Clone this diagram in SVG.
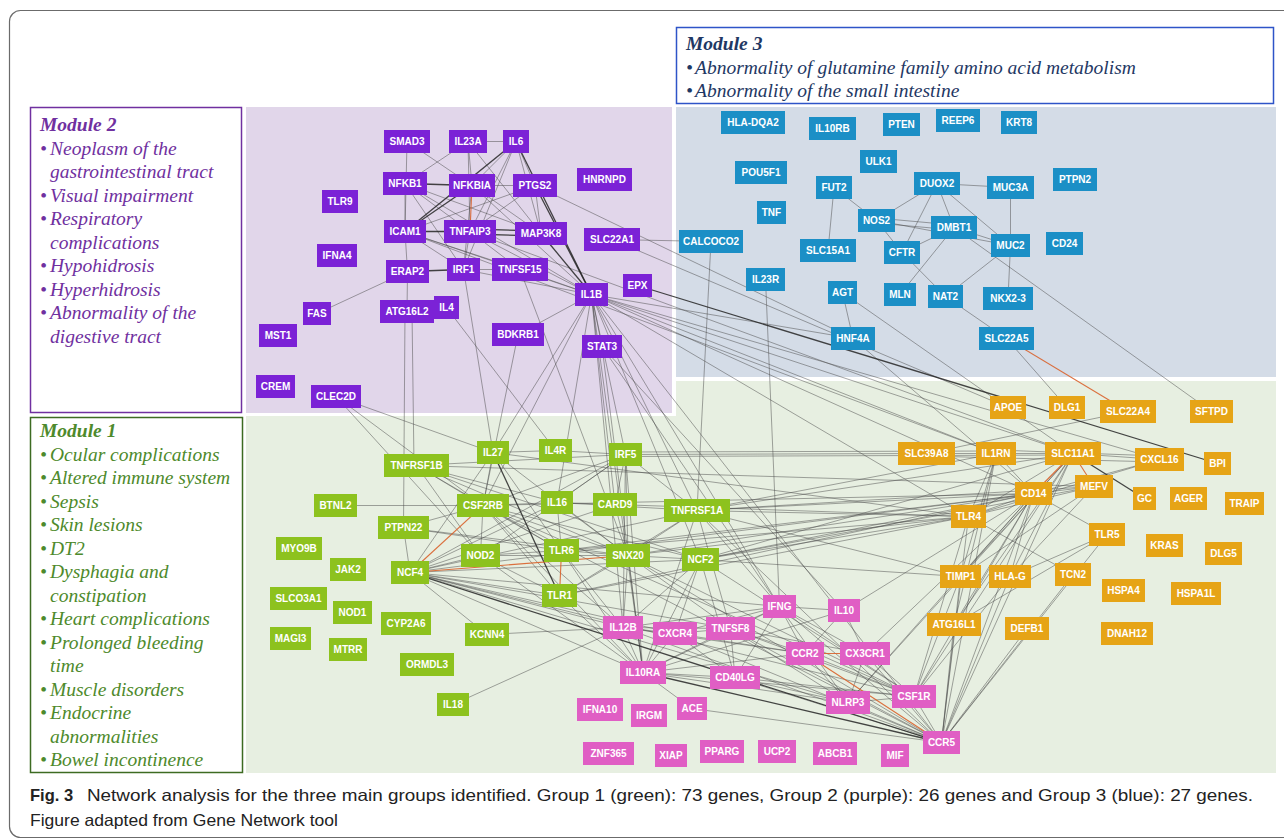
<svg xmlns="http://www.w3.org/2000/svg" width="1284" height="839" viewBox="0 0 1284 839">
<style>
.n rect{stroke:none}
.n text{font-family:"Liberation Sans",Arial,sans-serif;font-weight:bold;font-size:10px;fill:#fff;text-anchor:middle}
.p rect{fill:#7b22d6}
.b rect{fill:#1b8fc6}
.g rect{fill:#8dc21e}
.k rect{fill:#e05ec4}
.o rect{fill:#e6a416}
#edges line{stroke:#4a4a4a;stroke-width:0.8;stroke-opacity:0.62}
#edges line.d{stroke:#262626;stroke-width:1.3;stroke-opacity:0.85}
#edges line.r{stroke:#d9622b;stroke-width:1.1;stroke-opacity:0.9}
.mt{font-family:"Liberation Serif","Times New Roman",serif;font-style:italic;font-size:19.5px}
.mh{font-weight:bold}
.m2{fill:#7030a0}
.m1{fill:#4e8a2c}
.m3{fill:#1f3864}
.cap{font-family:"Liberation Sans",Arial,sans-serif;font-size:16.5px;fill:#222}
</style>
<rect x="0" y="0" width="1284" height="839" fill="#fff"/>
<rect x="9.5" y="10.5" width="1300" height="827" rx="11" fill="none" stroke="#6b6b6b" stroke-width="1.2"/>
<g id="regions">
<rect x="246" y="381" width="1030" height="392" fill="#e7efe1"/>
<rect x="246" y="104" width="430" height="312" fill="#fff"/>
<rect x="246" y="107" width="426" height="306" fill="#e1d6ea"/>
<rect x="676" y="107" width="600" height="270" fill="#d4dce7"/>
</g>
<g id="module3">
<rect x="676.5" y="27.5" width="597" height="76" fill="#fff" stroke="#2e54c8" stroke-width="1.5"/>
<text class="mt mh m3" x="686" y="50">Module 3</text>
<text class="mt m3" x="686" y="74">•<tspan x="695">Abnormality of glutamine family amino acid metabolism</tspan></text>
<text class="mt m3" x="686" y="97">•<tspan x="695">Abnormality of the small intestine</tspan></text>
</g>
<g id="module2">
<rect x="30.5" y="107.5" width="211" height="305" fill="#fff" stroke="#7030a0" stroke-width="1.5"/>
<text class="mt mh m2" x="40" y="131">Module 2</text>
<text class="mt m2" x="40" y="154.5">•<tspan x="50">Neoplasm of the</tspan></text>
<text class="mt m2" x="50" y="178">gastrointestinal tract</text>
<text class="mt m2" x="40" y="201.5">•<tspan x="50">Visual impairment</tspan></text>
<text class="mt m2" x="40" y="225">•<tspan x="50">Respiratory</tspan></text>
<text class="mt m2" x="50" y="248.5">complications</text>
<text class="mt m2" x="40" y="272">•<tspan x="50">Hypohidrosis</tspan></text>
<text class="mt m2" x="40" y="295.5">•<tspan x="50">Hyperhidrosis</tspan></text>
<text class="mt m2" x="40" y="319">•<tspan x="50">Abnormality of the</tspan></text>
<text class="mt m2" x="50" y="342.5">digestive tract</text>
</g>
<g id="module1">
<rect x="30.5" y="417.5" width="212" height="355" fill="#fff" stroke="#3d6b22" stroke-width="1.5"/>
<text class="mt mh m1" x="40" y="437">Module 1</text>
<text class="mt m1" x="40" y="460.5">•<tspan x="50">Ocular complications</tspan></text>
<text class="mt m1" x="40" y="484">•<tspan x="50">Altered immune system</tspan></text>
<text class="mt m1" x="40" y="507.5">•<tspan x="50">Sepsis</tspan></text>
<text class="mt m1" x="40" y="531">•<tspan x="50">Skin lesions</tspan></text>
<text class="mt m1" x="40" y="554.5">•<tspan x="50">DT2</tspan></text>
<text class="mt m1" x="40" y="578">•<tspan x="50">Dysphagia and</tspan></text>
<text class="mt m1" x="50" y="601.5">constipation</text>
<text class="mt m1" x="40" y="625">•<tspan x="50">Heart complications</tspan></text>
<text class="mt m1" x="40" y="648.5">•<tspan x="50">Prolonged bleeding</tspan></text>
<text class="mt m1" x="50" y="672">time</text>
<text class="mt m1" x="40" y="695.5">•<tspan x="50">Muscle disorders</tspan></text>
<text class="mt m1" x="40" y="719">•<tspan x="50">Endocrine</tspan></text>
<text class="mt m1" x="50" y="742.5">abnormalities</text>
<text class="mt m1" x="40" y="766">•<tspan x="50">Bowel incontinence</tspan></text>
</g>
<g id="edges">
<line x1="468" y1="141.5" x2="516" y2="141.5"/>
<line x1="407" y1="141.5" x2="472" y2="185.5"/>
<line x1="407" y1="141.5" x2="405" y2="231.5"/>
<line x1="468" y1="141.5" x2="405" y2="183.5"/>
<line x1="468" y1="141.5" x2="472" y2="185.5"/>
<line x1="468" y1="141.5" x2="470" y2="231.5"/>
<line x1="468" y1="141.5" x2="541" y2="233.5"/>
<line x1="516" y1="141.5" x2="472" y2="185.5"/>
<line x1="516" y1="141.5" x2="470" y2="231.5"/>
<line x1="516" y1="141.5" x2="535" y2="185.5"/>
<line x1="516" y1="141.5" x2="541" y2="233.5"/>
<line x1="516" y1="141.5" x2="463.5" y2="269.5"/>
<line x1="405" y1="183.5" x2="405" y2="231.5"/>
<line x1="405" y1="183.5" x2="470" y2="231.5"/>
<line x1="405" y1="183.5" x2="463.5" y2="269.5"/>
<line x1="405" y1="183.5" x2="541" y2="233.5"/>
<line x1="405" y1="183.5" x2="591.5" y2="294.5"/>
<line x1="472" y1="185.5" x2="535" y2="185.5"/>
<line x1="472" y1="185.5" x2="541" y2="233.5"/>
<line x1="472" y1="185.5" x2="591.5" y2="294.5"/>
<line x1="472" y1="185.5" x2="463.5" y2="269.5"/>
<line x1="535" y1="185.5" x2="541" y2="233.5"/>
<line x1="535" y1="185.5" x2="405" y2="231.5"/>
<line x1="535" y1="185.5" x2="470" y2="231.5"/>
<line x1="535" y1="185.5" x2="853" y2="338.5"/>
<line x1="405" y1="231.5" x2="463.5" y2="269.5"/>
<line x1="405" y1="231.5" x2="520" y2="269.5"/>
<line x1="405" y1="231.5" x2="591.5" y2="294.5"/>
<line x1="405" y1="231.5" x2="407.5" y2="271.5"/>
<line x1="405" y1="231.5" x2="996" y2="453.5"/>
<line x1="470" y1="231.5" x2="463.5" y2="269.5"/>
<line x1="470" y1="231.5" x2="591.5" y2="294.5"/>
<line x1="470" y1="231.5" x2="520" y2="269.5"/>
<line x1="470" y1="231.5" x2="1073" y2="453.5"/>
<line x1="407.5" y1="271.5" x2="317" y2="313.5"/>
<line x1="407.5" y1="271.5" x2="407" y2="311.5"/>
<line x1="463.5" y1="269.5" x2="520" y2="269.5"/>
<line x1="463.5" y1="269.5" x2="591.5" y2="294.5"/>
<line x1="520" y1="269.5" x2="591.5" y2="294.5"/>
<line x1="591.5" y1="294.5" x2="518" y2="334.5"/>
<line x1="591.5" y1="294.5" x2="602" y2="346.5"/>
<line x1="612" y1="239.5" x2="711" y2="241.5"/>
<line x1="612" y1="239.5" x2="1008" y2="407.5"/>
<line x1="336" y1="396.5" x2="483" y2="505.5"/>
<line x1="336" y1="396.5" x2="493" y2="452.5"/>
<line x1="336" y1="396.5" x2="480.5" y2="555.5"/>
<line x1="405" y1="311.5" x2="403.5" y2="527.5"/>
<line x1="412" y1="311.5" x2="414" y2="465.5"/>
<line x1="463.5" y1="269.5" x2="493" y2="452.5"/>
<line x1="446.5" y1="307.5" x2="555.5" y2="450.5"/>
<line x1="591.5" y1="294.5" x2="493" y2="452.5"/>
<line x1="520" y1="269.5" x2="628" y2="555.5"/>
<line x1="591.5" y1="294.5" x2="625.5" y2="454.5"/>
<line x1="591.5" y1="294.5" x2="697" y2="510.5"/>
<line x1="591.5" y1="294.5" x2="615" y2="504.5"/>
<line x1="591.5" y1="294.5" x2="643" y2="672.5"/>
<line x1="591.5" y1="294.5" x2="779.5" y2="606.5"/>
<line x1="591.5" y1="294.5" x2="700.5" y2="559.5"/>
<line x1="591.5" y1="294.5" x2="996" y2="453.5"/>
<line x1="591.5" y1="294.5" x2="1073" y2="453.5"/>
<line x1="591.5" y1="294.5" x2="1033.5" y2="493.5"/>
<line x1="591.5" y1="294.5" x2="1159.5" y2="459.5"/>
<line x1="591.5" y1="294.5" x2="853" y2="338.5"/>
<line x1="591.5" y1="294.5" x2="941.5" y2="742.5"/>
<line x1="591.5" y1="294.5" x2="623" y2="627.5"/>
<line x1="591.5" y1="294.5" x2="968.5" y2="516.5"/>
<line x1="591.5" y1="294.5" x2="483" y2="505.5"/>
<line x1="591.5" y1="294.5" x2="557" y2="502.5"/>
<line x1="602" y1="346.5" x2="844" y2="610.5"/>
<line x1="602" y1="346.5" x2="643" y2="672.5"/>
<line x1="602" y1="346.5" x2="779.5" y2="606.5"/>
<line x1="518" y1="334.5" x2="483" y2="505.5"/>
<line x1="711" y1="241.5" x2="697" y2="510.5"/>
<line x1="765.5" y1="279.5" x2="779.5" y2="606.5"/>
<line x1="834" y1="187.5" x2="876.5" y2="220.5"/>
<line x1="834" y1="187.5" x2="828" y2="250.5"/>
<line x1="937" y1="183.5" x2="1010.5" y2="187.5"/>
<line x1="937" y1="183.5" x2="876.5" y2="220.5"/>
<line x1="937" y1="183.5" x2="902" y2="252.5"/>
<line x1="937" y1="183.5" x2="954" y2="227.5"/>
<line x1="937" y1="183.5" x2="1010.5" y2="245.5"/>
<line x1="876.5" y1="218" x2="954" y2="225"/>
<line x1="876.5" y1="223" x2="954" y2="230"/>
<line x1="876.5" y1="220.5" x2="1010.5" y2="245.5"/>
<line x1="876.5" y1="220.5" x2="902" y2="252.5"/>
<line x1="954" y1="227.5" x2="902" y2="252.5"/>
<line x1="954" y1="227.5" x2="1010.5" y2="245.5"/>
<line x1="954" y1="227.5" x2="900" y2="294.5"/>
<line x1="1010.5" y1="187.5" x2="1010.5" y2="245.5"/>
<line x1="1010.5" y1="245.5" x2="945.5" y2="296.5"/>
<line x1="1010.5" y1="245.5" x2="1008" y2="298.5"/>
<line x1="902" y1="252.5" x2="945.5" y2="296.5"/>
<line x1="945.5" y1="296.5" x2="1006.5" y2="338.5"/>
<line x1="842.5" y1="292.5" x2="853" y2="338.5"/>
<line x1="954" y1="227.5" x2="1211.5" y2="411.5"/>
<line x1="842.5" y1="292.5" x2="1073" y2="453.5"/>
<line x1="1006.5" y1="338.5" x2="1067" y2="407.5"/>
<line x1="853" y1="338.5" x2="1033.5" y2="493.5"/>
<line x1="493" y1="452.5" x2="555.5" y2="450.5"/>
<line x1="555.5" y1="450.5" x2="625.5" y2="454.5"/>
<line x1="493" y1="452.5" x2="483" y2="505.5"/>
<line x1="493" y1="452.5" x2="410" y2="572.5"/>
<line x1="493" y1="452.5" x2="561.5" y2="550.5"/>
<line x1="493" y1="452.5" x2="628" y2="555.5"/>
<line x1="493" y1="452.5" x2="968.5" y2="516.5"/>
<line x1="416.5" y1="465.5" x2="483" y2="505.5"/>
<line x1="416.5" y1="465.5" x2="480.5" y2="555.5"/>
<line x1="416.5" y1="465.5" x2="561.5" y2="550.5"/>
<line x1="416.5" y1="465.5" x2="628" y2="555.5"/>
<line x1="416.5" y1="465.5" x2="557" y2="502.5"/>
<line x1="416.5" y1="465.5" x2="700.5" y2="559.5"/>
<line x1="416.5" y1="465.5" x2="625.5" y2="454.5"/>
<line x1="416.5" y1="465.5" x2="1094" y2="486.5"/>
<line x1="335.5" y1="505.5" x2="483" y2="505.5"/>
<line x1="625.5" y1="454.5" x2="483" y2="505.5"/>
<line x1="625.5" y1="454.5" x2="557" y2="502.5"/>
<line x1="625.5" y1="454.5" x2="628" y2="555.5"/>
<line x1="625.5" y1="454.5" x2="615" y2="504.5"/>
<line x1="625.5" y1="454.5" x2="697" y2="510.5"/>
<line x1="625.5" y1="454.5" x2="410" y2="572.5"/>
<line x1="625.5" y1="454.5" x2="480.5" y2="555.5"/>
<line x1="625.5" y1="454.5" x2="926.5" y2="453.5"/>
<line x1="625.5" y1="452" x2="996" y2="451"/>
<line x1="625.5" y1="456.5" x2="1073" y2="455"/>
<line x1="625.5" y1="454.5" x2="623" y2="627.5"/>
<line x1="625.5" y1="454.5" x2="643" y2="672.5"/>
<line x1="483" y1="505.5" x2="557" y2="502.5"/>
<line x1="483" y1="505.5" x2="480.5" y2="555.5"/>
<line x1="483" y1="505.5" x2="561.5" y2="550.5"/>
<line x1="483" y1="505.5" x2="628" y2="555.5"/>
<line x1="483" y1="505.5" x2="559.5" y2="595.5"/>
<line x1="483" y1="505.5" x2="623" y2="627.5"/>
<line x1="483" y1="505.5" x2="643" y2="672.5"/>
<line x1="483" y1="505.5" x2="403.5" y2="527.5"/>
<line x1="483" y1="505.5" x2="700.5" y2="559.5"/>
<line x1="483" y1="505.5" x2="941.5" y2="742.5"/>
<line x1="483" y1="505.5" x2="914" y2="696.5"/>
<line x1="483" y1="505.5" x2="1033.5" y2="493.5"/>
<line x1="557" y1="502.5" x2="615" y2="504.5"/>
<line x1="557" y1="502.5" x2="561.5" y2="550.5"/>
<line x1="557" y1="502.5" x2="628" y2="555.5"/>
<line x1="557" y1="502.5" x2="410" y2="572.5"/>
<line x1="557" y1="502.5" x2="697" y2="510.5"/>
<line x1="615" y1="504.5" x2="628" y2="555.5"/>
<line x1="615" y1="504.5" x2="410" y2="572.5"/>
<line x1="615" y1="504.5" x2="968.5" y2="516.5"/>
<line x1="403.5" y1="527.5" x2="410" y2="572.5"/>
<line x1="403.5" y1="527.5" x2="561.5" y2="550.5"/>
<line x1="403.5" y1="527.5" x2="628" y2="555.5"/>
<line x1="480.5" y1="555.5" x2="561.5" y2="550.5"/>
<line x1="480.5" y1="555.5" x2="410" y2="572.5"/>
<line x1="480.5" y1="555.5" x2="628" y2="555.5"/>
<line x1="480.5" y1="555.5" x2="559.5" y2="595.5"/>
<line x1="480.5" y1="555.5" x2="643" y2="672.5"/>
<line x1="561.5" y1="550.5" x2="628" y2="555.5"/>
<line x1="410" y1="572.5" x2="700.5" y2="559.5"/>
<line x1="410" y1="572.5" x2="697" y2="510.5"/>
<line x1="410" y1="572.5" x2="643" y2="672.5"/>
<line x1="410" y1="572.5" x2="623" y2="627.5"/>
<line x1="410" y1="572.5" x2="487" y2="634.5"/>
<line x1="410" y1="572.5" x2="559.5" y2="595.5"/>
<line x1="410" y1="572.5" x2="914" y2="696.5"/>
<line x1="410" y1="572.5" x2="848" y2="702.5"/>
<line x1="410" y1="572.5" x2="1033.5" y2="493.5"/>
<line x1="410" y1="572.5" x2="730.5" y2="628.5"/>
<line x1="410" y1="572.5" x2="675" y2="633.5"/>
<line x1="410" y1="572.5" x2="779.5" y2="606.5"/>
<line x1="487" y1="634.5" x2="623" y2="627.5"/>
<line x1="453" y1="704.5" x2="623" y2="627.5"/>
<line x1="628" y1="555.5" x2="700.5" y2="559.5"/>
<line x1="628" y1="555.5" x2="623" y2="627.5"/>
<line x1="628" y1="555.5" x2="643" y2="672.5"/>
<line x1="628" y1="555.5" x2="697" y2="510.5"/>
<line x1="628" y1="555.5" x2="1033.5" y2="493.5"/>
<line x1="628" y1="555.5" x2="968.5" y2="516.5"/>
<line x1="628" y1="555.5" x2="941.5" y2="742.5"/>
<line x1="628" y1="555.5" x2="559.5" y2="595.5"/>
<line x1="628" y1="555.5" x2="730.5" y2="628.5"/>
<line x1="628" y1="555.5" x2="914" y2="696.5"/>
<line x1="561.5" y1="550.5" x2="1033.5" y2="493.5"/>
<line x1="561.5" y1="550.5" x2="968.5" y2="516.5"/>
<line x1="561.5" y1="550.5" x2="623" y2="627.5"/>
<line x1="561.5" y1="550.5" x2="643" y2="672.5"/>
<line x1="559.5" y1="595.5" x2="968.5" y2="516.5"/>
<line x1="559.5" y1="595.5" x2="1033.5" y2="493.5"/>
<line x1="559.5" y1="595.5" x2="643" y2="672.5"/>
<line x1="559.5" y1="595.5" x2="697" y2="510.5"/>
<line x1="697" y1="510.5" x2="1073" y2="453.5"/>
<line x1="697" y1="510.5" x2="1033.5" y2="493.5"/>
<line x1="697" y1="510.5" x2="996" y2="453.5"/>
<line x1="697" y1="510.5" x2="968.5" y2="516.5"/>
<line x1="697" y1="510.5" x2="643" y2="672.5"/>
<line x1="697" y1="510.5" x2="730.5" y2="628.5"/>
<line x1="697" y1="510.5" x2="941.5" y2="742.5"/>
<line x1="697" y1="510.5" x2="1094" y2="486.5"/>
<line x1="697" y1="510.5" x2="779.5" y2="606.5"/>
<line x1="697" y1="510.5" x2="960.5" y2="576.5"/>
<line x1="700.5" y1="559.5" x2="1033.5" y2="493.5"/>
<line x1="700.5" y1="559.5" x2="968.5" y2="516.5"/>
<line x1="700.5" y1="559.5" x2="1073" y2="453.5"/>
<line x1="700.5" y1="559.5" x2="960.5" y2="576.5"/>
<line x1="700.5" y1="559.5" x2="643" y2="672.5"/>
<line x1="700.5" y1="559.5" x2="675" y2="633.5"/>
<line x1="700.5" y1="559.5" x2="735" y2="677.5"/>
<line x1="700.5" y1="559.5" x2="623" y2="627.5"/>
<line x1="700.5" y1="559.5" x2="914" y2="696.5"/>
<line x1="700.5" y1="559.5" x2="1094" y2="486.5"/>
<line x1="623" y1="627.5" x2="643" y2="672.5"/>
<line x1="623" y1="627.5" x2="675" y2="633.5"/>
<line x1="623" y1="627.5" x2="779.5" y2="606.5"/>
<line x1="623" y1="627.5" x2="730.5" y2="628.5"/>
<line x1="623" y1="627.5" x2="941.5" y2="742.5"/>
<line x1="623" y1="627.5" x2="805" y2="653.5"/>
<line x1="675" y1="633.5" x2="730.5" y2="628.5"/>
<line x1="675" y1="633.5" x2="643" y2="672.5"/>
<line x1="675" y1="633.5" x2="941.5" y2="742.5"/>
<line x1="675" y1="633.5" x2="805" y2="653.5"/>
<line x1="675" y1="633.5" x2="735" y2="677.5"/>
<line x1="675" y1="633.5" x2="779.5" y2="606.5"/>
<line x1="643" y1="672.5" x2="692" y2="708.5"/>
<line x1="643" y1="672.5" x2="914" y2="696.5"/>
<line x1="643" y1="672.5" x2="848" y2="702.5"/>
<line x1="643" y1="672.5" x2="735" y2="677.5"/>
<line x1="643" y1="672.5" x2="730.5" y2="628.5"/>
<line x1="643" y1="672.5" x2="779.5" y2="606.5"/>
<line x1="643" y1="672.5" x2="805" y2="653.5"/>
<line x1="643" y1="672.5" x2="844" y2="610.5"/>
<line x1="692" y1="708.5" x2="941.5" y2="742.5"/>
<line x1="779.5" y1="606.5" x2="844" y2="610.5"/>
<line x1="779.5" y1="606.5" x2="730.5" y2="628.5"/>
<line x1="779.5" y1="606.5" x2="805" y2="653.5"/>
<line x1="779.5" y1="606.5" x2="865" y2="653.5"/>
<line x1="779.5" y1="606.5" x2="735" y2="677.5"/>
<line x1="779.5" y1="606.5" x2="914" y2="696.5"/>
<line x1="779.5" y1="606.5" x2="941.5" y2="742.5"/>
<line x1="779.5" y1="606.5" x2="848" y2="702.5"/>
<line x1="844" y1="610.5" x2="865" y2="653.5"/>
<line x1="844" y1="610.5" x2="805" y2="653.5"/>
<line x1="844" y1="610.5" x2="1033.5" y2="493.5"/>
<line x1="730.5" y1="628.5" x2="735" y2="677.5"/>
<line x1="730.5" y1="628.5" x2="805" y2="653.5"/>
<line x1="730.5" y1="628.5" x2="865" y2="653.5"/>
<line x1="730.5" y1="628.5" x2="914" y2="696.5"/>
<line x1="730.5" y1="628.5" x2="848" y2="702.5"/>
<line x1="730.5" y1="628.5" x2="941.5" y2="742.5"/>
<line x1="805" y1="653.5" x2="848" y2="702.5"/>
<line x1="805" y1="653.5" x2="914" y2="696.5"/>
<line x1="865" y1="653.5" x2="914" y2="696.5"/>
<line x1="865" y1="653.5" x2="941.5" y2="742.5"/>
<line x1="865" y1="653.5" x2="848" y2="702.5"/>
<line x1="735" y1="677.5" x2="941.5" y2="742.5"/>
<line x1="735" y1="677.5" x2="914" y2="696.5"/>
<line x1="735" y1="677.5" x2="848" y2="702.5"/>
<line x1="848" y1="702.5" x2="941.5" y2="742.5"/>
<line x1="848" y1="702.5" x2="914" y2="696.5"/>
<line x1="914" y1="696.5" x2="941.5" y2="742.5"/>
<line x1="941.5" y1="742.5" x2="960.5" y2="576.5"/>
<line x1="941.5" y1="742.5" x2="1010" y2="576.5"/>
<line x1="941.5" y1="742.5" x2="954" y2="624.5"/>
<line x1="941.5" y1="742.5" x2="1033.5" y2="493.5"/>
<line x1="941.5" y1="742.5" x2="968.5" y2="516.5"/>
<line x1="941.5" y1="742.5" x2="1073" y2="453.5"/>
<line x1="941.5" y1="742.5" x2="1107" y2="534.5"/>
<line x1="941.5" y1="742.5" x2="1027" y2="628.5"/>
<line x1="941.5" y1="742.5" x2="1073" y2="574.5"/>
<line x1="941.5" y1="742.5" x2="996" y2="453.5"/>
<line x1="914" y1="696.5" x2="1033.5" y2="493.5"/>
<line x1="914" y1="696.5" x2="968.5" y2="516.5"/>
<line x1="914" y1="696.5" x2="1073" y2="453.5"/>
<line x1="914" y1="696.5" x2="1010" y2="576.5"/>
<line x1="914" y1="696.5" x2="960.5" y2="576.5"/>
<line x1="865" y1="653.5" x2="1033.5" y2="493.5"/>
<line x1="848" y1="702.5" x2="1033.5" y2="493.5"/>
<line x1="848" y1="702.5" x2="1073" y2="453.5"/>
<line x1="926.5" y1="453.5" x2="996" y2="453.5"/>
<line x1="996" y1="453.5" x2="1073" y2="453.5"/>
<line x1="1073" y1="453.5" x2="1159.5" y2="459.5"/>
<line x1="1073" y1="453.5" x2="968.5" y2="516.5"/>
<line x1="1073" y1="453.5" x2="1010" y2="576.5"/>
<line x1="1073" y1="453.5" x2="960.5" y2="576.5"/>
<line x1="1073" y1="453.5" x2="954" y2="624.5"/>
<line x1="996" y1="453.5" x2="1033.5" y2="493.5"/>
<line x1="996" y1="453.5" x2="968.5" y2="516.5"/>
<line x1="996" y1="453.5" x2="960.5" y2="576.5"/>
<line x1="996" y1="453.5" x2="954" y2="624.5"/>
<line x1="996" y1="450" x2="1159.5" y2="456"/>
<line x1="926.5" y1="456" x2="1159.5" y2="462"/>
<line x1="1033.5" y1="493.5" x2="1094" y2="486.5"/>
<line x1="1033.5" y1="493.5" x2="968.5" y2="516.5"/>
<line x1="1033.5" y1="493.5" x2="1107" y2="534.5"/>
<line x1="1033.5" y1="493.5" x2="1010" y2="576.5"/>
<line x1="1033.5" y1="493.5" x2="960.5" y2="576.5"/>
<line x1="1033.5" y1="493.5" x2="954" y2="624.5"/>
<line x1="1033.5" y1="493.5" x2="1159.5" y2="459.5"/>
<line x1="1094" y1="486.5" x2="960.5" y2="576.5"/>
<line x1="1094" y1="486.5" x2="1010" y2="576.5"/>
<line x1="1094" y1="486.5" x2="968.5" y2="516.5"/>
<line x1="1159.5" y1="459.5" x2="968.5" y2="516.5"/>
<line x1="1107" y1="534.5" x2="1010" y2="576.5"/>
<line x1="1107" y1="534.5" x2="954" y2="624.5"/>
<line x1="1128" y1="411.5" x2="926.5" y2="453.5"/>
<line x1="968.5" y1="516.5" x2="1073" y2="574.5"/>
<line class="d" x1="516" y1="141.5" x2="405" y2="231.5"/>
<line class="d" x1="516" y1="141.5" x2="591.5" y2="294.5"/>
<line class="d" x1="405" y1="183.5" x2="472" y2="185.5"/>
<line class="d" x1="472" y1="185.5" x2="405" y2="231.5"/>
<line class="d" x1="535" y1="185.5" x2="591.5" y2="294.5"/>
<line class="d" x1="405" y1="231.5" x2="470" y2="231.5"/>
<line class="d" x1="470" y1="229" x2="541" y2="231"/>
<line class="d" x1="470" y1="234" x2="541" y2="236"/>
<line class="d" x1="407.5" y1="271.5" x2="463.5" y2="269.5"/>
<line class="d" x1="541" y1="233.5" x2="591.5" y2="294.5"/>
<line class="d" x1="637.5" y1="285.5" x2="1217.5" y2="463.5"/>
<line class="d" x1="410" y1="572.5" x2="941.5" y2="742.5"/>
<line class="d" x1="643" y1="672.5" x2="941.5" y2="742.5"/>
<line class="d" x1="1073" y1="453.5" x2="1144.5" y2="498.5"/>
<line class="d" x1="493" y1="452.5" x2="559.5" y2="595.5"/>
<line class="r" x1="472" y1="185.5" x2="470" y2="231.5"/>
<line class="r" x1="483" y1="505.5" x2="410" y2="572.5"/>
<line class="r" x1="410" y1="572.5" x2="628" y2="555.5"/>
<line class="r" x1="561.5" y1="550.5" x2="559.5" y2="595.5"/>
<line class="r" x1="805" y1="653.5" x2="865" y2="653.5"/>
<line class="r" x1="805" y1="653.5" x2="941.5" y2="742.5"/>
<line class="r" x1="1073" y1="453.5" x2="1094" y2="486.5"/>
<line class="r" x1="1073" y1="453.5" x2="1033.5" y2="493.5"/>
<line class="r" x1="1006.5" y1="338.5" x2="1128" y2="411.5"/>
</g>
<g id="nodes">
<g id="SMAD3" class="n p"><rect x="384" y="130" width="46" height="23"/><text x="407" y="145">SMAD3</text></g>
<g id="IL23A" class="n p"><rect x="449" y="130" width="38" height="23"/><text x="468" y="145">IL23A</text></g>
<g id="IL6" class="n p"><rect x="503" y="130" width="26" height="23"/><text x="516" y="145">IL6</text></g>
<g id="NFKB1" class="n p"><rect x="383" y="172" width="44" height="23"/><text x="405" y="187">NFKB1</text></g>
<g id="NFKBIA" class="n p"><rect x="449" y="174" width="46" height="23"/><text x="472" y="189">NFKBIA</text></g>
<g id="PTGS2" class="n p"><rect x="513" y="174" width="44" height="23"/><text x="535" y="189">PTGS2</text></g>
<g id="HNRNPD" class="n p"><rect x="577" y="168" width="55" height="23"/><text x="604.5" y="183">HNRNPD</text></g>
<g id="TLR9" class="n p"><rect x="322" y="190" width="36" height="23"/><text x="340" y="205">TLR9</text></g>
<g id="ICAM1" class="n p"><rect x="384" y="220" width="42" height="23"/><text x="405" y="235">ICAM1</text></g>
<g id="TNFAIP3" class="n p"><rect x="444" y="220" width="52" height="23"/><text x="470" y="235">TNFAIP3</text></g>
<g id="MAP3K8" class="n p"><rect x="515" y="222" width="52" height="23"/><text x="541" y="237">MAP3K8</text></g>
<g id="SLC22A1" class="n p"><rect x="584" y="228" width="56" height="23"/><text x="612" y="243">SLC22A1</text></g>
<g id="IFNA4" class="n p"><rect x="317" y="244" width="40" height="23"/><text x="337" y="259">IFNA4</text></g>
<g id="ERAP2" class="n p"><rect x="386" y="260" width="43" height="23"/><text x="407.5" y="275">ERAP2</text></g>
<g id="IRF1" class="n p"><rect x="447" y="258" width="33" height="23"/><text x="463.5" y="273">IRF1</text></g>
<g id="TNFSF15" class="n p"><rect x="492" y="258" width="56" height="23"/><text x="520" y="273">TNFSF15</text></g>
<g id="EPX" class="n p"><rect x="623" y="274" width="29" height="23"/><text x="637.5" y="289">EPX</text></g>
<g id="IL1B" class="n p"><rect x="575" y="283" width="33" height="23"/><text x="591.5" y="298">IL1B</text></g>
<g id="FAS" class="n p"><rect x="303" y="302" width="28" height="23"/><text x="317" y="317">FAS</text></g>
<g id="IL4" class="n p"><rect x="434" y="296" width="25" height="23"/><text x="446.5" y="311">IL4</text></g>
<g id="ATG16L2" class="n p"><rect x="380" y="300" width="54" height="23"/><text x="407" y="315">ATG16L2</text></g>
<g id="MST1" class="n p"><rect x="259" y="324" width="38" height="23"/><text x="278" y="339">MST1</text></g>
<g id="BDKRB1" class="n p"><rect x="492" y="323" width="52" height="23"/><text x="518" y="338">BDKRB1</text></g>
<g id="STAT3" class="n p"><rect x="582" y="335" width="40" height="23"/><text x="602" y="350">STAT3</text></g>
<g id="CREM" class="n p"><rect x="256" y="375" width="39" height="23"/><text x="275.5" y="390">CREM</text></g>
<g id="CLEC2D" class="n p"><rect x="311" y="385" width="50" height="23"/><text x="336" y="400">CLEC2D</text></g>
<g id="HLA-DQA2" class="n b"><rect x="721" y="111" width="64" height="23"/><text x="753" y="126">HLA-DQA2</text></g>
<g id="IL10RB" class="n b"><rect x="809" y="117" width="47" height="23"/><text x="832.5" y="132">IL10RB</text></g>
<g id="PTEN" class="n b"><rect x="883" y="113" width="37" height="23"/><text x="901.5" y="128">PTEN</text></g>
<g id="REEP6" class="n b"><rect x="936" y="109" width="44" height="23"/><text x="958" y="124">REEP6</text></g>
<g id="KRT8" class="n b"><rect x="1001" y="111" width="36" height="23"/><text x="1019" y="126">KRT8</text></g>
<g id="ULK1" class="n b"><rect x="860" y="150" width="37" height="23"/><text x="878.5" y="165">ULK1</text></g>
<g id="POU5F1" class="n b"><rect x="735" y="161" width="52" height="23"/><text x="761" y="176">POU5F1</text></g>
<g id="FUT2" class="n b"><rect x="816" y="176" width="36" height="23"/><text x="834" y="191">FUT2</text></g>
<g id="DUOX2" class="n b"><rect x="914" y="172" width="46" height="23"/><text x="937" y="187">DUOX2</text></g>
<g id="MUC3A" class="n b"><rect x="987" y="176" width="47" height="23"/><text x="1010.5" y="191">MUC3A</text></g>
<g id="PTPN2" class="n b"><rect x="1053" y="168" width="44" height="23"/><text x="1075" y="183">PTPN2</text></g>
<g id="TNF" class="n b"><rect x="757" y="201" width="29" height="23"/><text x="771.5" y="216">TNF</text></g>
<g id="NOS2" class="n b"><rect x="858" y="209" width="37" height="23"/><text x="876.5" y="224">NOS2</text></g>
<g id="DMBT1" class="n b"><rect x="931" y="216" width="46" height="23"/><text x="954" y="231">DMBT1</text></g>
<g id="CALCOCO2" class="n b"><rect x="679" y="230" width="64" height="23"/><text x="711" y="245">CALCOCO2</text></g>
<g id="SLC15A1" class="n b"><rect x="800" y="239" width="56" height="23"/><text x="828" y="254">SLC15A1</text></g>
<g id="CFTR" class="n b"><rect x="884" y="241" width="36" height="23"/><text x="902" y="256">CFTR</text></g>
<g id="MUC2" class="n b"><rect x="991" y="234" width="39" height="23"/><text x="1010.5" y="249">MUC2</text></g>
<g id="CD24" class="n b"><rect x="1046" y="232" width="37" height="23"/><text x="1064.5" y="247">CD24</text></g>
<g id="IL23R" class="n b"><rect x="746" y="268" width="39" height="23"/><text x="765.5" y="283">IL23R</text></g>
<g id="AGT" class="n b"><rect x="828" y="281" width="29" height="23"/><text x="842.5" y="296">AGT</text></g>
<g id="MLN" class="n b"><rect x="884" y="283" width="32" height="23"/><text x="900" y="298">MLN</text></g>
<g id="NAT2" class="n b"><rect x="928" y="285" width="35" height="23"/><text x="945.5" y="300">NAT2</text></g>
<g id="NKX2-3" class="n b"><rect x="983" y="287" width="50" height="23"/><text x="1008" y="302">NKX2-3</text></g>
<g id="HNF4A" class="n b"><rect x="831" y="327" width="44" height="23"/><text x="853" y="342">HNF4A</text></g>
<g id="SLC22A5" class="n b"><rect x="979" y="327" width="55" height="23"/><text x="1006.5" y="342">SLC22A5</text></g>
<g id="IL27" class="n g"><rect x="477" y="441" width="32" height="23"/><text x="493" y="456">IL27</text></g>
<g id="IL4R" class="n g"><rect x="539" y="439" width="33" height="23"/><text x="555.5" y="454">IL4R</text></g>
<g id="IRF5" class="n g"><rect x="609" y="443" width="33" height="23"/><text x="625.5" y="458">IRF5</text></g>
<g id="TNFRSF1B" class="n g"><rect x="384" y="454" width="65" height="23"/><text x="416.5" y="469">TNFRSF1B</text></g>
<g id="BTNL2" class="n g"><rect x="314" y="494" width="43" height="23"/><text x="335.5" y="509">BTNL2</text></g>
<g id="CSF2RB" class="n g"><rect x="457" y="494" width="52" height="23"/><text x="483" y="509">CSF2RB</text></g>
<g id="IL16" class="n g"><rect x="541" y="491" width="32" height="23"/><text x="557" y="506">IL16</text></g>
<g id="CARD9" class="n g"><rect x="593" y="493" width="44" height="23"/><text x="615" y="508">CARD9</text></g>
<g id="TNFRSF1A" class="n g"><rect x="664" y="499" width="66" height="23"/><text x="697" y="514">TNFRSF1A</text></g>
<g id="PTPN22" class="n g"><rect x="378" y="516" width="51" height="23"/><text x="403.5" y="531">PTPN22</text></g>
<g id="MYO9B" class="n g"><rect x="276" y="537" width="46" height="23"/><text x="299" y="552">MYO9B</text></g>
<g id="NOD2" class="n g"><rect x="461" y="544" width="39" height="23"/><text x="480.5" y="559">NOD2</text></g>
<g id="TLR6" class="n g"><rect x="544" y="539" width="35" height="23"/><text x="561.5" y="554">TLR6</text></g>
<g id="SNX20" class="n g"><rect x="606" y="544" width="44" height="23"/><text x="628" y="559">SNX20</text></g>
<g id="NCF2" class="n g"><rect x="682" y="548" width="37" height="23"/><text x="700.5" y="563">NCF2</text></g>
<g id="JAK2" class="n g"><rect x="330" y="558" width="36" height="23"/><text x="348" y="573">JAK2</text></g>
<g id="NCF4" class="n g"><rect x="391" y="561" width="38" height="23"/><text x="410" y="576">NCF4</text></g>
<g id="SLCO3A1" class="n g"><rect x="270" y="587" width="57" height="23"/><text x="298.5" y="602">SLCO3A1</text></g>
<g id="TLR1" class="n g"><rect x="542" y="584" width="35" height="23"/><text x="559.5" y="599">TLR1</text></g>
<g id="NOD1" class="n g"><rect x="333" y="601" width="39" height="23"/><text x="352.5" y="616">NOD1</text></g>
<g id="CYP2A6" class="n g"><rect x="381" y="612" width="50" height="23"/><text x="406" y="627">CYP2A6</text></g>
<g id="MAGI3" class="n g"><rect x="270" y="627" width="41" height="23"/><text x="290.5" y="642">MAGI3</text></g>
<g id="KCNN4" class="n g"><rect x="465" y="623" width="44" height="23"/><text x="487" y="638">KCNN4</text></g>
<g id="MTRR" class="n g"><rect x="329" y="638" width="38" height="23"/><text x="348" y="653">MTRR</text></g>
<g id="ORMDL3" class="n g"><rect x="400" y="653" width="54" height="23"/><text x="427" y="668">ORMDL3</text></g>
<g id="IL18" class="n g"><rect x="437" y="693" width="32" height="23"/><text x="453" y="708">IL18</text></g>
<g id="IL12B" class="n k"><rect x="603" y="616" width="40" height="23"/><text x="623" y="631">IL12B</text></g>
<g id="CXCR4" class="n k"><rect x="653" y="622" width="44" height="23"/><text x="675" y="637">CXCR4</text></g>
<g id="TNFSF8" class="n k"><rect x="706" y="617" width="49" height="23"/><text x="730.5" y="632">TNFSF8</text></g>
<g id="IFNG" class="n k"><rect x="763" y="595" width="33" height="23"/><text x="779.5" y="610">IFNG</text></g>
<g id="IL10" class="n k"><rect x="828" y="599" width="32" height="23"/><text x="844" y="614">IL10</text></g>
<g id="CCR2" class="n k"><rect x="786" y="642" width="38" height="23"/><text x="805" y="657">CCR2</text></g>
<g id="CX3CR1" class="n k"><rect x="840" y="642" width="50" height="23"/><text x="865" y="657">CX3CR1</text></g>
<g id="IL10RA" class="n k"><rect x="620" y="661" width="46" height="23"/><text x="643" y="676">IL10RA</text></g>
<g id="CD40LG" class="n k"><rect x="710" y="666" width="50" height="23"/><text x="735" y="681">CD40LG</text></g>
<g id="IFNA10" class="n k"><rect x="577" y="698" width="46" height="23"/><text x="600" y="713">IFNA10</text></g>
<g id="IRGM" class="n k"><rect x="631" y="704" width="36" height="23"/><text x="649" y="719">IRGM</text></g>
<g id="ACE" class="n k"><rect x="677" y="697" width="30" height="23"/><text x="692" y="712">ACE</text></g>
<g id="NLRP3" class="n k"><rect x="826" y="691" width="44" height="23"/><text x="848" y="706">NLRP3</text></g>
<g id="CSF1R" class="n k"><rect x="892" y="685" width="44" height="23"/><text x="914" y="700">CSF1R</text></g>
<g id="CCR5" class="n k"><rect x="923" y="731" width="37" height="23"/><text x="941.5" y="746">CCR5</text></g>
<g id="ZNF365" class="n k"><rect x="583" y="742" width="51" height="23"/><text x="608.5" y="757">ZNF365</text></g>
<g id="XIAP" class="n k"><rect x="655" y="744" width="32" height="23"/><text x="671" y="759">XIAP</text></g>
<g id="PPARG" class="n k"><rect x="700" y="740" width="44" height="23"/><text x="722" y="755">PPARG</text></g>
<g id="UCP2" class="n k"><rect x="758" y="740" width="38" height="23"/><text x="777" y="755">UCP2</text></g>
<g id="ABCB1" class="n k"><rect x="813" y="742" width="44" height="23"/><text x="835" y="757">ABCB1</text></g>
<g id="MIF" class="n k"><rect x="881" y="744" width="28" height="23"/><text x="895" y="759">MIF</text></g>
<g id="APOE" class="n o"><rect x="990" y="396" width="36" height="23"/><text x="1008" y="411">APOE</text></g>
<g id="DLG1" class="n o"><rect x="1049" y="396" width="36" height="23"/><text x="1067" y="411">DLG1</text></g>
<g id="SLC22A4" class="n o"><rect x="1100" y="400" width="56" height="23"/><text x="1128" y="415">SLC22A4</text></g>
<g id="SFTPD" class="n o"><rect x="1190" y="400" width="43" height="23"/><text x="1211.5" y="415">SFTPD</text></g>
<g id="SLC39A8" class="n o"><rect x="898" y="442" width="57" height="23"/><text x="926.5" y="457">SLC39A8</text></g>
<g id="IL1RN" class="n o"><rect x="976" y="442" width="40" height="23"/><text x="996" y="457">IL1RN</text></g>
<g id="SLC11A1" class="n o"><rect x="1045" y="442" width="56" height="23"/><text x="1073" y="457">SLC11A1</text></g>
<g id="CXCL16" class="n o"><rect x="1135" y="448" width="49" height="23"/><text x="1159.5" y="463">CXCL16</text></g>
<g id="BPI" class="n o"><rect x="1204" y="452" width="27" height="23"/><text x="1217.5" y="467">BPI</text></g>
<g id="MEFV" class="n o"><rect x="1075" y="475" width="38" height="23"/><text x="1094" y="490">MEFV</text></g>
<g id="CD14" class="n o"><rect x="1015" y="482" width="37" height="23"/><text x="1033.5" y="497">CD14</text></g>
<g id="GC" class="n o"><rect x="1133" y="487" width="23" height="23"/><text x="1144.5" y="502">GC</text></g>
<g id="AGER" class="n o"><rect x="1170" y="487" width="37" height="23"/><text x="1188.5" y="502">AGER</text></g>
<g id="TRAIP" class="n o"><rect x="1225" y="492" width="39" height="23"/><text x="1244.5" y="507">TRAIP</text></g>
<g id="TLR4" class="n o"><rect x="951" y="505" width="35" height="23"/><text x="968.5" y="520">TLR4</text></g>
<g id="TLR5" class="n o"><rect x="1089" y="523" width="36" height="23"/><text x="1107" y="538">TLR5</text></g>
<g id="KRAS" class="n o"><rect x="1146" y="534" width="37" height="23"/><text x="1164.5" y="549">KRAS</text></g>
<g id="DLG5" class="n o"><rect x="1205" y="542" width="37" height="23"/><text x="1223.5" y="557">DLG5</text></g>
<g id="TIMP1" class="n o"><rect x="940" y="565" width="41" height="23"/><text x="960.5" y="580">TIMP1</text></g>
<g id="HLA-G" class="n o"><rect x="989" y="565" width="42" height="23"/><text x="1010" y="580">HLA-G</text></g>
<g id="TCN2" class="n o"><rect x="1055" y="563" width="36" height="23"/><text x="1073" y="578">TCN2</text></g>
<g id="HSPA4" class="n o"><rect x="1102" y="579" width="43" height="23"/><text x="1123.5" y="594">HSPA4</text></g>
<g id="HSPA1L" class="n o"><rect x="1171" y="582" width="50" height="23"/><text x="1196" y="597">HSPA1L</text></g>
<g id="ATG16L1" class="n o"><rect x="927" y="613" width="54" height="23"/><text x="954" y="628">ATG16L1</text></g>
<g id="DEFB1" class="n o"><rect x="1005" y="617" width="44" height="23"/><text x="1027" y="632">DEFB1</text></g>
<g id="DNAH12" class="n o"><rect x="1101" y="622" width="52" height="23"/><text x="1127" y="637">DNAH12</text></g>
</g>
<g id="caption">
<text class="cap" x="30" y="801" font-weight="bold">Fig. 3</text>
<text class="cap" x="87" y="801" textLength="1166" lengthAdjust="spacingAndGlyphs">Network analysis for the three main groups identified. Group 1 (green): 73 genes, Group 2 (purple): 26 genes and Group 3 (blue): 27 genes.</text>
<text class="cap" x="30" y="826" textLength="308" lengthAdjust="spacingAndGlyphs">Figure adapted from Gene Network tool</text>
</g>
</svg>
